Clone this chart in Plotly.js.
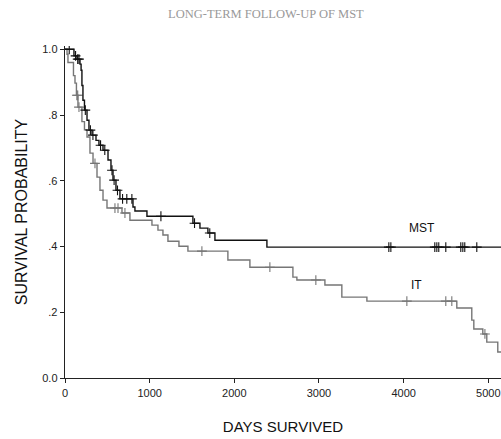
<!DOCTYPE html>
<html>
<head>
<meta charset="utf-8">
<script src="https://cdn.plot.ly/plotly-3.0.1.min.js"></script>
<style>html,body{margin:0;padding:0;background:#fff;}#chart{width:501px;height:439px;}</style>
</head>
<body>
<div id="chart"></div>
<script>
// Kaplan-Meier step points (day where survival changes, new survival)
const mstDays = [0,106,142,177,190,200,212,230,260,283,319,366,401,449,508,543,567,602,649,803,826,968,1511,1594,1688,1771,2385,5150];
const mstSurv = [1.0,0.98,0.97,0.955,0.936,0.89,0.845,0.815,0.784,0.754,0.739,0.723,0.708,0.693,0.663,0.632,0.602,0.571,0.545,0.52,0.508,0.492,0.471,0.456,0.441,0.419,0.398,0.398];
const mstCensor = [50,125,150,165,240,300,330,420,470,555,580,620,680,730,790,1133,1530,1710,3825,3849,4368,4392,4415,4498,4675,4699,4722,4864];

const itDays = [0,24,35,100,118,135,153,200,230,260,295,331,378,413,449,496,673,767,1027,1098,1157,1216,1346,1452,1924,2184,2692,2739,3070,3270,3566,4628,4805,4829,4935,4982,5112,5150];
const itSurv = [1.0,0.985,0.96,0.92,0.897,0.86,0.824,0.78,0.755,0.733,0.684,0.653,0.611,0.571,0.541,0.517,0.502,0.48,0.465,0.45,0.435,0.416,0.401,0.386,0.359,0.337,0.307,0.298,0.283,0.246,0.234,0.213,0.176,0.149,0.134,0.109,0.079,0.079];
const itCensor = [140,150,165,354,590,626,708,1617,2420,2963,4038,4498,4569,4960];

const yTickVals = [0,0.2,0.4,0.6,0.8,1.0];
const yTickText = ['0.0','.2','.4','.6','.8','1.0'];
const xTickVals = [0,1000,2000,3000,4000,5000];

function survAt(days, surv, d){
  let v = surv[0];
  for(let i=0;i<days.length;i++){ if(days[i] <= d) v = surv[i]; }
  return v;
}

const MST_COLOR = '#111111';
const IT_COLOR = '#767676';

const traces = [
  {x: itDays, y: itSurv, mode:'lines', line:{shape:'hv', color:IT_COLOR, width:1.4}, hoverinfo:'skip', showlegend:false},
  {x: itCensor, y: itCensor.map(d=>survAt(itDays,itSurv,d)), mode:'markers',
   marker:{symbol:'cross-thin', size:7, line:{color:IT_COLOR, width:1.1}}, showlegend:false, hoverinfo:'skip'},
  {x: mstDays, y: mstSurv, mode:'lines', line:{shape:'hv', color:MST_COLOR, width:1.4}, hoverinfo:'skip', showlegend:false},
  {x: mstCensor, y: mstCensor.map(d=>survAt(mstDays,mstSurv,d)), mode:'markers',
   marker:{symbol:'cross-thin', size:7, line:{color:MST_COLOR, width:1.1}}, showlegend:false, hoverinfo:'skip'}
];

const axisFont = {family:'Liberation Sans, Arial, sans-serif', size:11, color:'#222'};
const layout = {
  width:501, height:439,
  margin:{l:65, r:0, t:46, b:61},
  paper_bgcolor:'#fff', plot_bgcolor:'#fff',
  showlegend:false,
  xaxis:{range:[0,5150], tickvals:xTickVals, ticks:'outside', ticklen:4, tickwidth:1, tickcolor:'#222',
    showline:true, linecolor:'#222', linewidth:1.3, showgrid:false, zeroline:false, tickfont:axisFont,
    ticklabeloverflow:'allow',
    title:{text:'DAYS SURVIVED', font:{family:'Liberation Sans, Arial, sans-serif', size:15, color:'#111'}, standoff:24}},
  yaxis:{range:[0,1.01], tickvals:yTickVals, ticktext:yTickText, ticks:'outside', ticklen:4, tickwidth:1, tickcolor:'#222',
    showline:true, linecolor:'#222', linewidth:1.3, showgrid:false, zeroline:false, tickfont:axisFont,
    title:{text:'SURVIVAL PROBABILITY', font:{family:'Liberation Sans, Arial, sans-serif', size:16, color:'#111'}, standoff:10}},
  annotations:[
    {text:'MST', x:4217, y:0.456, xref:'x', yref:'y', showarrow:false, font:{family:'Liberation Sans, Arial, sans-serif', size:12, color:'#111'}},
    {text:'IT', x:4146, y:0.283, xref:'x', yref:'y', showarrow:false, font:{family:'Liberation Sans, Arial, sans-serif', size:12, color:'#111'}},
    {text:'LONG-TERM FOLLOW-UP OF MST', xref:'paper', yref:'paper', x:0.46, y:1.125, showarrow:false,
     font:{family:'Liberation Serif, serif', size:12.5, color:'#999'}}
  ]
};
Plotly.newPlot('chart', traces, layout, {staticPlot:true, displayModeBar:false});
</script>
</body>
</html>
